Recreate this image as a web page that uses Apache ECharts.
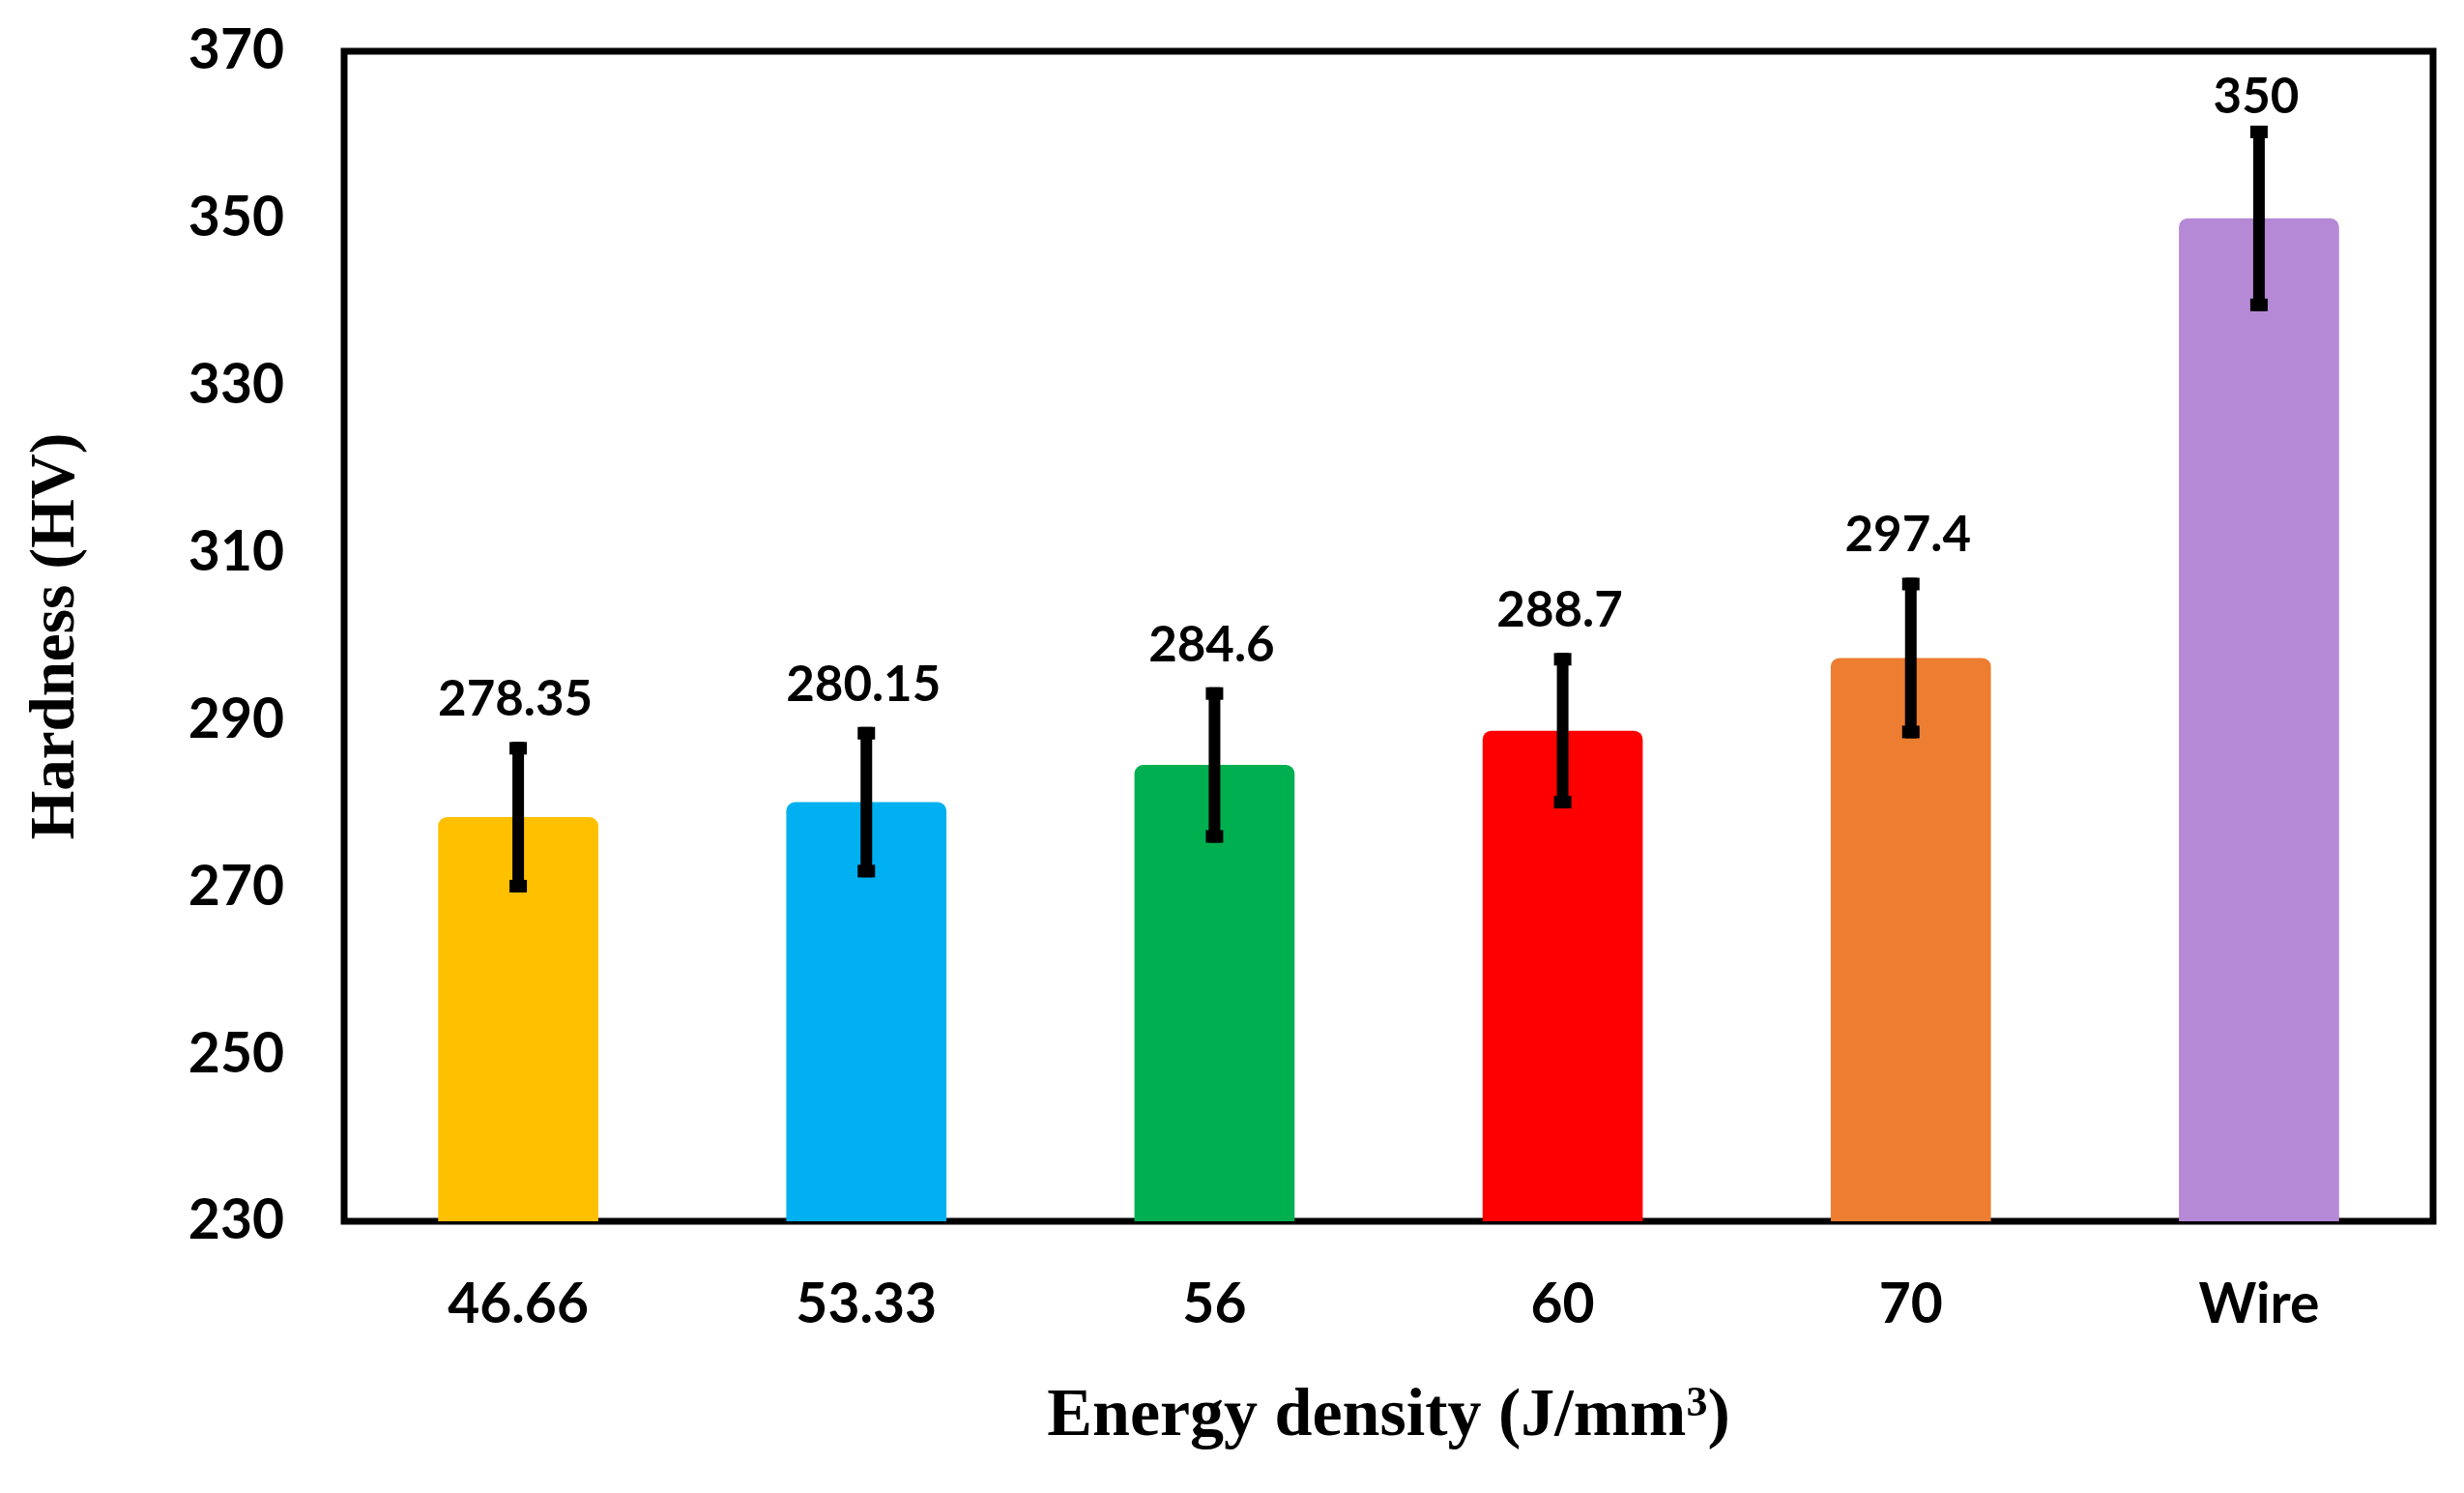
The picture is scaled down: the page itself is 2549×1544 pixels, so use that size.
<!DOCTYPE html>
<html>
<head>
<meta charset="utf-8">
<script src="https://cdn.jsdelivr.net/npm/echarts@6/dist/echarts.min.js"></script>
<style>
html,body{margin:0;padding:0;background:#fff;}
#chart{width:2549px;height:1544px;}
</style>
</head>
<body>
<div id="chart"></div>
<script>
const categories = ['46.66', '53.33', '56', '60', '70', 'Wire'];
const hardness = [278.35, 280.15, 284.6, 288.7, 297.4, 350];
const hardnessLabels = ['278.35', '280.15', '284.6', '288.7', '297.4', '350'];
const errors = [9.0, 9.0, 9.3, 9.3, 9.6, 11.1];
const barColors = ['#FFC000', '#00B0F0', '#00B050', '#FF0000', '#ED7D31', '#B589D6'];
const yMin = 230, yMax = 370, yInterval = 20;

const chart = echarts.init(document.getElementById('chart'), null, {renderer: 'canvas'});

const labelFont = 'Lato';
const option = {
  backgroundColor: '#fff',
  animation: false,
  grid: {
    left: 356, right: 32, top: 53, bottom: 281,
    show: true, borderColor: '#000', borderWidth: 7, backgroundColor: 'transparent'
  },
  xAxis: {
    type: 'category',
    data: categories,
    axisLine: {show: false},
    axisTick: {show: false},
    axisLabel: {
      margin: 58, color: '#000', fontFamily: labelFont, fontWeight: 'bold', fontSize: 57
    },
    name: 'Energy density (J/mm{sup|3})',
    nameLocation: 'middle',
    nameGap: 168,
    nameTextStyle: {
      color: '#000', fontFamily: 'Liberation Serif', fontWeight: 'bold', fontSize: 70,
      rich: {
        sup: {fontFamily: 'Liberation Serif', fontWeight: 'bold', fontSize: 44, verticalAlign: 'top', lineHeight: 44, color: '#000'}
      }
    }
  },
  yAxis: {
    type: 'value',
    min: yMin, max: yMax, interval: yInterval,
    axisLine: {show: false},
    axisTick: {show: false},
    splitLine: {show: false},
    axisLabel: {
      margin: 62, color: '#000', fontFamily: labelFont, fontWeight: 'bold', fontSize: 57
    },
    name: 'Hardness (HV)',
    nameLocation: 'middle',
    nameGap: 264,
    nameTextStyle: {
      color: '#000', fontFamily: 'Liberation Serif', fontWeight: 'bold', fontSize: 65
    }
  },
  series: [
    {
      type: 'bar',
      barWidth: '46%',
      data: hardness.map((v, i) => ({
        value: v,
        itemStyle: {color: barColors[i], borderRadius: [9, 9, 0, 0]}
      })),
      z: 2
    },
    {
      type: 'custom',
      z: 5,
      encode: {x: 0, y: [1, 2]},
      data: hardness.map((v, i) => [i, v - errors[i], v + errors[i]]),
      renderItem: function (params, api) {
        const i = api.value(0);
        const lo = api.coord([i, api.value(1)]);
        const hi = api.coord([i, api.value(2)]);
        const stem = 12, capW = 18, capH = 13;
        return {
          type: 'group',
          children: [
            {type: 'rect', shape: {x: hi[0] - stem / 2, y: hi[1], width: stem, height: lo[1] - hi[1]}, style: {fill: '#000'}},
            {type: 'rect', shape: {x: hi[0] - capW / 2, y: hi[1], width: capW, height: capH}, style: {fill: '#000'}},
            {type: 'rect', shape: {x: lo[0] - capW / 2, y: lo[1] - capH, width: capW, height: capH}, style: {fill: '#000'}}
          ]
        };
      }
    },
    {
      type: 'scatter',
      z: 6,
      symbolSize: 0,
      silent: true,
      itemStyle: {opacity: 1, color: '#000'},
      data: hardness.map((v, i) => ({
        value: [i, v + errors[i]],
        label: {distance: i === 5 ? 4 : 18}
      })),
      label: {
        show: true,
        position: 'top',
        offset: [-3, 0],
        color: '#000',
        opacity: 1,
        fontFamily: labelFont,
        fontWeight: 'bold',
        fontSize: 51,
        formatter: function (p) { return hardnessLabels[p.dataIndex]; }
      }
    }
  ]
};
chart.setOption(option);
</script>
</body>
</html>
